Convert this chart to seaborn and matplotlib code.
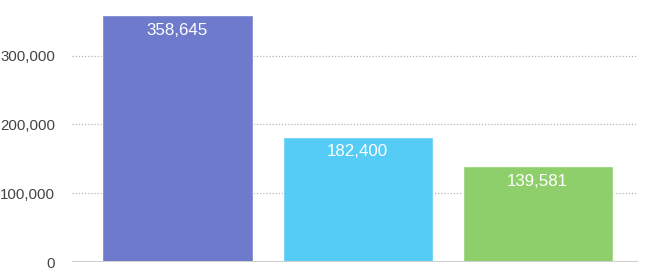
import matplotlib
matplotlib.use("Agg")
import matplotlib.pyplot as plt
import seaborn as sns
import pandas as pd
from matplotlib.ticker import FuncFormatter

categories = ["A", "B", "C"]
values = [358645, 182400, 139581]
colors = ["#6E7ACB", "#55CCF6", "#8ECF6B"]
yticks = [0, 100000, 200000, 300000]

sns.set_theme(style="white")
plt.rcParams["font.family"] = ["Liberation Sans", "DejaVu Sans"]

df = pd.DataFrame({"cat": categories, "val": values})
fig = plt.figure(figsize=(6.63, 2.68), dpi=100)
ax = fig.add_axes([72/663, 6/268, 566/663, 262/268])
sns.barplot(data=df, x="cat", y="val", hue="cat", palette=colors, width=150/180,
            saturation=1, legend=False, ax=ax, zorder=3)
ax.set_xlim(-0.586, 2.558)
ax.set_ylim(0, 381000)
ax.set_yticks(yticks)
ax.yaxis.set_major_formatter(FuncFormatter(lambda v, p: f"{int(v):,}"))
for y in yticks[1:]:
    ax.axhline(y, color="#b5b5b5", lw=0.9, ls=(0, (1, 1.5)), zorder=1)
ax.axhline(0, color="#d0d0d0", lw=2.2, zorder=4)
for s in ax.spines.values():
    s.set_visible(False)
ax.set_xticks([])
ax.set_xlabel("")
ax.set_ylabel("")
ax.tick_params(axis="y", length=0, pad=12, labelsize=10.8, labelcolor="#444444")
for i, v in enumerate(values):
    ax.annotate(f"{v:,}", (i, v), xytext=(0, -15), textcoords="offset pixels",
                ha="center", va="center", color="white", fontsize=12.2, zorder=5)
fig.savefig("out.png", dpi=100)
